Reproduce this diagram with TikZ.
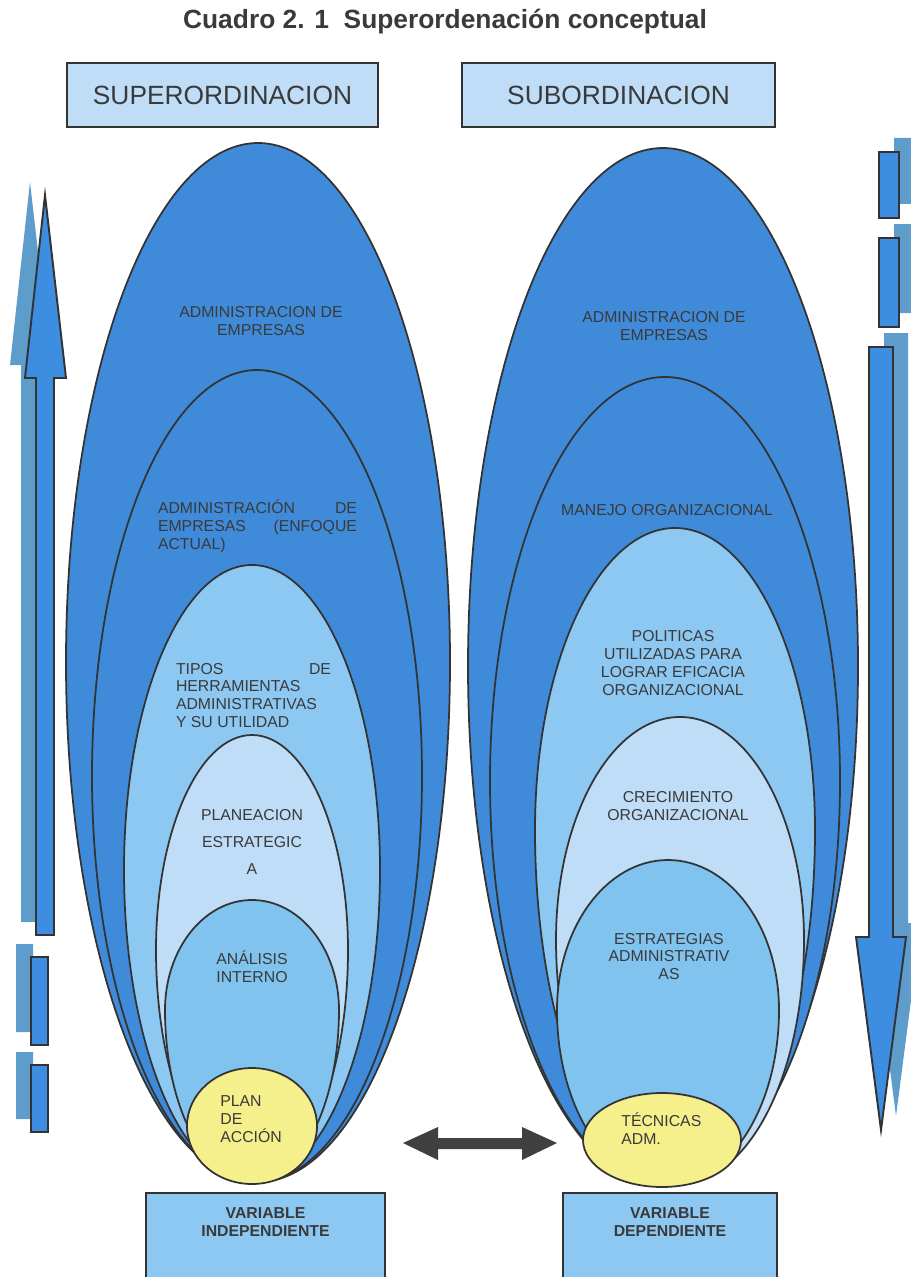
\documentclass[tikz,border=0pt]{standalone}
\usepackage{fontspec}
\setmainfont{Liberation Sans}
\definecolor{azul}{HTML}{3F8BDA}
\definecolor{celeste}{HTML}{8DC8F2}
\definecolor{palido}{HTML}{BFDDF7}
\definecolor{medio}{HTML}{80C3EE}
\definecolor{amarillo}{HTML}{F5EF8C}
\definecolor{azulsombra}{HTML}{5E9DCB}
\definecolor{flecha}{HTML}{3D8DE0}
\definecolor{borde}{HTML}{333333}
\definecolor{texto}{HTML}{3A3A3A}

% huevo{relleno}{cx}{ym}{a}{b arriba}{b abajo}
\newcommand{\huevo}[6]{%
  \draw[borde, line width=1pt, fill=#1] ({#2-#4},#3)
    arc[start angle=180, end angle=360, x radius=#4, y radius=#5]
    arc[start angle=0, end angle=180, x radius=#4, y radius=#6] -- cycle;}

\begin{document}
\begin{tikzpicture}[x=0.02cm,y=-0.02cm,
  caja/.style={draw=borde, line width=1pt, fill=palido},
  etiq/.style={font=\fontsize{9}{10.2}\selectfont, text=texto, align=center, inner sep=0pt},
  pieza/.style={draw=borde, line width=1.1pt, fill=flecha},
  sombra/.style={fill=azulsombra}]

\useasboundingbox (0,0) rectangle (911,1277);
\clip (0,0) rectangle (911,1277);

% titulo y cabeceras
\node[font=\fontsize{15}{18}\selectfont\bfseries, text=texto] (titulo) at (445,22) {Cuadro 2. 1\ \ Superordenación conceptual};
\node[caja, minimum width=6.22cm, minimum height=1.28cm, font=\fontsize{15}{18}\selectfont, text=texto] (super) at (222.5,95) {SUPERORDINACION};
\node[caja, minimum width=6.26cm, minimum height=1.28cm, font=\fontsize{15}{18}\selectfont, text=texto] (sub) at (618.5,95) {SUBORDINACION};

% flechas laterales
\foreach \dx/\dy/\st in {-15/-13/sombra, 0/0/pieza} {
  \path[\st, shift={(\dx,\dy)}] (45,195) -- (66,378) -- (54,378) -- (54,935) -- (36,935) -- (36,378) -- (25,378) -- cycle;
  \path[\st, shift={(\dx,\dy)}] (31,957) rectangle (48,1045) (31,1065) rectangle (48,1132);
}
\foreach \dx/\dy/\st in {15/-14/sombra, 0/0/pieza} {
  \path[\st, shift={(\dx,\dy)}] (881,1130) -- (906,937) -- (893,937) -- (893,347) -- (869,347) -- (869,937) -- (856,937) -- cycle;
  \path[\st, shift={(\dx,\dy)}] (879,152) rectangle (899,218) (879,238) rectangle (899,327);
}

% conjunto izquierdo
\huevo{azul}{258}{662}{192}{519}{520}
\huevo{azul}{257}{776}{165}{406}{406}
\huevo{celeste}{252}{870}{128}{305}{312}
\huevo{palido}{252}{950}{96}{215}{230}
\huevo{medio}{252}{1010}{87}{110}{172}
\draw[borde, line width=1pt, fill=amarillo] (252,1126) ellipse[x radius=65, y radius=58];

% conjunto derecho
\huevo{azul}{663}{666}{195}{518}{519}
\huevo{azul}{665}{781}{175}{404}{404}
\huevo{celeste}{675}{830}{140}{302}{353}
\huevo{palido}{680}{940}{124}{223}{243}
\huevo{medio}{668}{1010}{111}{150}{175}
\draw[borde, line width=1pt, fill=amarillo] (662,1140) ellipse[x radius=79, y radius=47];

% textos izquierda
\node[etiq] (admA) at (261,321) {ADMINISTRACION DE\\EMPRESAS};
\node[etiq, align=left] (enfoque) at (257.5,526) {\makebox[3.98cm][s]{ADMINISTRACIÓN DE}\\\makebox[3.98cm][s]{EMPRESAS (ENFOQUE}\\\makebox[3.98cm][l]{ACTUAL)}};
\node[etiq, align=left] (tipos) at (253.5,695.5) {\makebox[3.1cm][s]{TIPOS DE}\\\makebox[3.1cm][l]{HERRAMIENTAS}\\\makebox[3.1cm][l]{ADMINISTRATIVAS}\\\makebox[3.1cm][l]{Y SU UTILIDAD}};
\node[etiq, font=\fontsize{9}{15.3}\selectfont] (planea) at (252,842) {PLANEACION\\ESTRATEGIC\\A};
\node[etiq] (analisis) at (252,966.5) {ANÁLISIS\\INTERNO};
\node[etiq, align=left, anchor=west] (plan) at (220,1119) {PLAN\\DE\\ACCIÓN};

% textos derecha
\node[etiq] (admB) at (664,326) {ADMINISTRACION DE\\EMPRESAS};
\node[etiq] (manejo) at (667,510) {MANEJO ORGANIZACIONAL};
\node[etiq] (politicas) at (673,663) {POLITICAS\\UTILIZADAS PARA\\LOGRAR EFICACIA\\ORGANIZACIONAL};
\node[etiq] (crece) at (678,806) {CRECIMIENTO\\ORGANIZACIONAL};
\node[etiq] (estrat) at (669,956.5) {ESTRATEGIAS\\ADMINISTRATIV\\AS};
\node[etiq, align=left, anchor=west] (tecnicas) at (621,1128.5) {TÉCNICAS\\ADM.};

% flecha doble
\fill[black!75] (403,1143) -- (438,1127) -- (438,1138) -- (522,1138) -- (522,1127) -- (557,1143)
  -- (522,1160) -- (522,1149) -- (438,1149) -- (438,1160) -- cycle;

% variables
\draw[caja, fill=celeste] (146,1193) rectangle (385,1290);
\draw[caja, fill=celeste] (563,1193) rectangle (777,1290);
\node[etiq, font=\fontsize{9}{10.2}\selectfont\bfseries] (indep) at (265.5,1222.5) {VARIABLE\\INDEPENDIENTE};
\node[etiq, font=\fontsize{9}{10.2}\selectfont\bfseries] (dep) at (670,1222.5) {VARIABLE\\DEPENDIENTE};

\end{tikzpicture}
\end{document}
